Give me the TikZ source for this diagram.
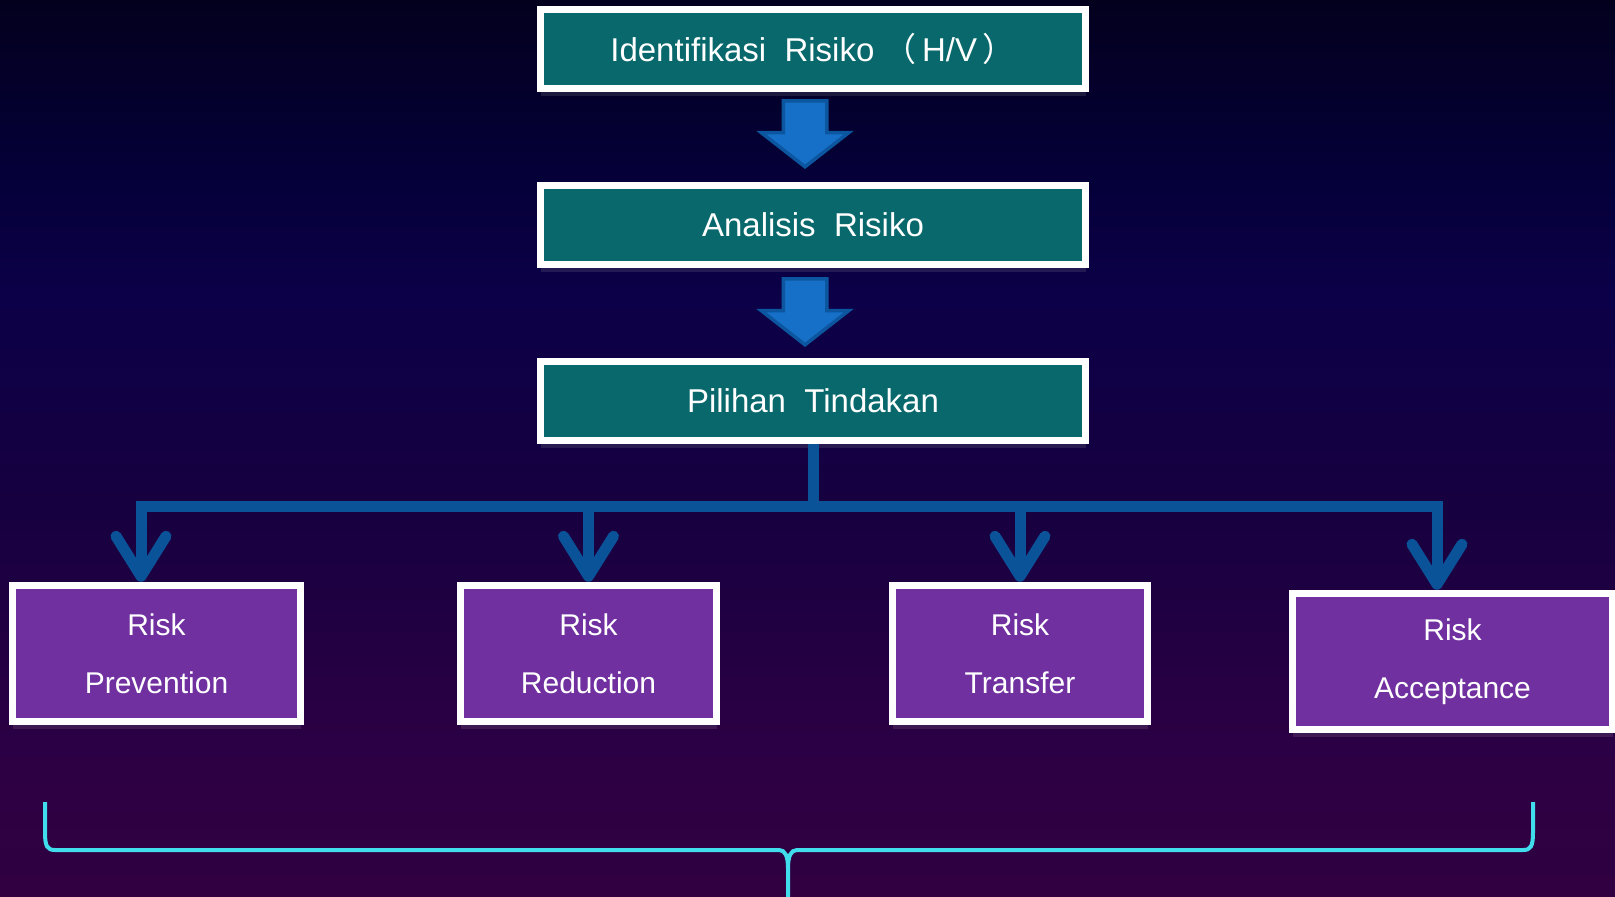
\documentclass[tikz,border=0pt]{standalone}
\usepackage{fontspec}
\setmainfont{Liberation Sans}
\newfontfamily\cjk{Noto Sans CJK SC}
\usepackage{xcolor}
\usepackage{tikz}
\usetikzlibrary{positioning, arrows.meta, shapes.arrows, shadows}

\definecolor{tealbox}{RGB}{8,104,107}
\definecolor{riskpurple}{RGB}{112,48,160}
\definecolor{arrowfill}{RGB}{22,112,200}
\definecolor{arrowline}{RGB}{12,86,160}
\definecolor{linkblue}{RGB}{11,83,153}
\definecolor{bracecyan}{RGB}{64,222,236}
\definecolor{bgtop}{RGB}{3,0,30}
\definecolor{bgupper}{RGB}{5,0,58}
\definecolor{bgmid}{RGB}{12,0,72}
\definecolor{bglow}{RGB}{22,0,64}
\definecolor{bgdeep}{RGB}{45,0,68}
\definecolor{bgbot}{RGB}{48,0,64}
% the picture spans 25bp..75bp of the shading
\pgfdeclareverticalshading{bgshade}{100bp}{color(0bp)=(bgbot); color(25bp)=(bgbot); color(32.5bp)=(bgdeep); color(47bp)=(bglow); color(58.5bp)=(bgmid); color(64.5bp)=(bgupper); color(75bp)=(bgtop); color(100bp)=(bgtop)}

\begin{document}
\begin{tikzpicture}[x=1pt, y=-1pt,
    boxshadow/.style={drop shadow={shadow xshift=0pt, shadow yshift=-7pt, fill=gray!60, opacity=.15}},
    stepbox/.style={draw=white, line width=7pt, fill=tealbox, text=white, minimum width=545pt, minimum height=79pt, font=\fontsize{33}{40}\selectfont, boxshadow},
    riskbox/.style={draw=white, line width=7.5pt, fill=riskpurple, text=white, minimum height=136pt, align=center, font=\fontsize{30}{58}\selectfont, boxshadow},
    downarrow/.style={single arrow, rotate=-90, draw=arrowline, line width=3.5pt, fill=arrowfill, inner xsep=0pt, inner ysep=20pt, minimum height=66pt, single arrow head extend=22pt, single arrow tip angle=104},
    link/.style={draw=linkblue, line width=11pt},
    branch/.style={link, -{Straight Barb[length=40pt, width=50pt, round]}},
    brace/.style={draw=bracecyan, line width=4pt}]
    \useasboundingbox (0,0) rectangle (1615,897);
    \shade[shading=bgshade] (0,0) rectangle (1615,897);

    % upper chain
    \node[stepbox] (ident) at (813,49) {Identifikasi\ \ Risiko {\cjk （}\,H/V\,{\cjk ）}};
    \node[stepbox, below=90pt of ident] (analisis) {Analisis\ \ Risiko};
    \node[stepbox, below=90pt of analisis] (pilihan) {Pilihan\ \ Tindakan};
    \node[downarrow, anchor=tip] (down1) at (805,169) {};
    \node[downarrow, anchor=tip] (down2) at (805,347) {};

    % options
    \node[riskbox, minimum width=288pt] (prev) at (156.5,653.5) {Risk\\Prevention};
    \node[riskbox, minimum width=256pt] (red) at (588.5,653.5) {Risk\\Reduction};
    \node[riskbox, minimum width=255pt] (trans) at (1020,653.5) {Risk\\Transfer};
    \node[riskbox, minimum width=320pt] (acc) at (1452.5,661.5) {Risk\\Acceptance};

    \coordinate (split) at (813,506);
    \draw[link] (pilihan.south) -- (split);
    \draw[branch] (split) -| ([xshift=-15.5pt]prev.north);
    \draw[branch] (split) -| (red.north);
    \draw[branch] (split) -| (trans.north);
    \draw[branch] (split) -| ([xshift=-15.5pt]acc.north);

    % brace
    \draw[brace] (45,802) -- (45,832) .. controls (45,846) and (47,850) .. (55,850) -- (779,850)
        .. controls (785,850) and (788,856) .. (788,868) -- (788,900);
    \draw[brace] (788,868) .. controls (788,856) and (791,850) .. (797,850) -- (1523,850)
        .. controls (1531,850) and (1533,846) .. (1533,832) -- (1533,802);
\end{tikzpicture}
\end{document}
